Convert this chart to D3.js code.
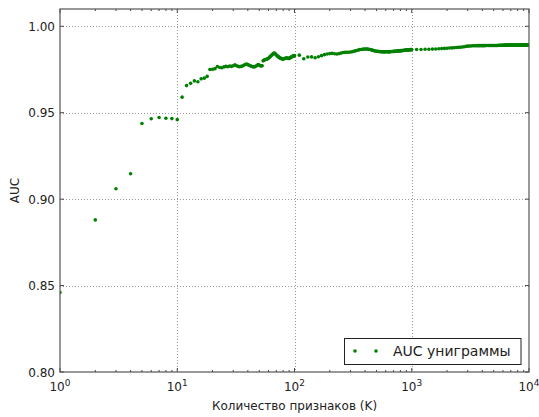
<!DOCTYPE html>
<html>
<head>
    <meta charset="utf-8">
    <script src="https://d3js.org/d3.v7.min.js"></script>
    <style>
        body { margin: 0; background: #fff; }
        text { font-family: "DejaVu Sans", sans-serif; fill: #222; }
    </style>
</head>
<body>
    <svg id="chart" width="539" height="417"></svg>

    <script>
        // number of features K (x values)
        const kLow = [1,2,3,4,5,6,7,8,9,10,11,12,13,14,15,16,17,18,19,20,
            21,22,23,24,25,26,27,28,29,30,31,32,33,34,35,36,37,38,39,40,
            41,42,43,44,45,46,47,48,49,50,51,52,53,54,55,56,57,58,59,60,
            61,62,63,64,65,66,67,68,69,70,71,72,73,74,75,76,77,78,79,80,
            81,82,83,84,85,86,87,88,89,90,91,92,93,94,95,96,97,98,99,100];
        const kMid = [110,120,130,140,150,160,170,180,190,200,210,220,230,240,250,260,270,280,290,300,
            310,320,330,340,350,360,370,380,390,400,410,420,430,440,450,460,470,480,490,500,
            510,520,530,540,550,560,570,580,590,600,610,620,630,640,650,660,670,680,690,700,
            710,720,730,740,750,760,770,780,790,800,810,820,830,840,850,860,870,880,890,900,
            910,920,930,940,950,960,970,980,990,1000];
        const kHigh = [1100,1200,1300,1400,1500,1600,1700,1800,1900,2000,2100,2200,2300,2400,2500,2600,2700,2800,2900,3000,
            3100,3200,3300,3400,3500,3600,3700,3800,3900,4000,4100,4200,4300,4400,4500,4600,4700,4800,4900,5000,
            5100,5200,5300,5400,5500,5600,5700,5800,5900,6000,6100,6200,6300,6400,6500,6600,6700,6800,6900,7000,
            7100,7200,7300,7400,7500,7600,7700,7800,7900,8000,8100,8200,8300,8400,8500,8600,8700,8800,8900,9000,
            9100,9200,9300,9400,9500,9600,9700,9800,9900,10000];

        // AUC for the unigram model
        const aucLow = [0.846,0.888,0.906,0.9147,0.9438,0.9465,0.9472,0.9468,0.9466,0.946,
            0.959,0.9657,0.967,0.9684,0.9679,0.9696,0.970,0.971,0.975,0.9751,
            0.9755,0.9767,0.9762,0.9760,0.9765,0.9768,0.9766,0.9770,0.9768,0.9772,
            0.9777,0.9772,0.9768,0.9766,0.9768,0.9770,0.9775,0.9779,0.9781,0.9778,
            0.9775,0.9771,0.9769,0.9766,0.9765,0.9766,0.9770,0.9775,0.9778,0.9776,
            0.9772,0.9770,0.9772,0.9800,0.9804,0.9806,0.9808,0.9810,0.9812,0.9815,
            0.9820,0.9825,0.9829,0.9833,0.9838,0.9842,0.9845,0.9844,0.9838,0.9834,
            0.9830,0.9826,0.9823,0.9820,0.9817,0.9815,0.9813,0.9812,0.9811,0.9811,
            0.9812,0.9813,0.9814,0.9815,0.9816,0.9816,0.9815,0.9815,0.9814,0.9814,
            0.9816,0.9818,0.9820,0.9822,0.9824,0.9826,0.9827,0.9828,0.9829,0.9830];
        const aucMid = [0.9833,0.9812,0.9822,0.9823,0.9818,0.9824,0.9830,0.9836,0.9840,0.9842,
            0.9843,0.9841,0.9840,0.9842,0.9845,0.9848,0.9849,0.9850,0.9850,0.9851,
            0.9853,0.9856,0.9858,0.9860,0.9863,0.9865,0.9866,0.9867,0.9868,0.9869,
            0.9869,0.9868,0.9867,0.9866,0.9864,0.9862,0.9860,0.9858,0.9857,0.9856,
            0.9855,0.9854,0.9854,0.9853,0.9853,0.9853,0.9852,0.9852,0.9852,0.9853,
            0.9853,0.9853,0.9852,0.9852,0.9853,0.9853,0.9854,0.9854,0.9854,0.9855,
            0.9855,0.9855,0.9856,0.9856,0.9857,0.9857,0.9857,0.9858,0.9858,0.9858,
            0.9859,0.9859,0.9860,0.9860,0.9860,0.9861,0.9861,0.9861,0.9862,0.9862,
            0.9862,0.9863,0.9863,0.9863,0.9864,0.9864,0.9864,0.9865,0.9865,0.9865];
        const aucHigh = [0.9866,0.9866,0.9867,0.9867,0.9868,0.9869,0.9870,0.9871,0.9872,0.9873,
            0.9874,0.9875,0.9876,0.9877,0.9878,0.9879,0.9880,0.9882,0.9884,0.9885,
            0.9886,0.9886,0.9887,0.9887,0.9887,0.9888,0.9888,0.9888,0.9888,0.9888,
            0.9888,0.9888,0.9889,0.9889,0.9889,0.9889,0.9889,0.9889,0.9889,0.9889,
            0.9889,0.9889,0.9889,0.9889,0.9890,0.9890,0.9890,0.9890,0.9890,0.9890,
            0.9891,0.9891,0.9891,0.9891,0.9891,0.9891,0.9892,0.9892,0.9892,0.9892,
            0.9892,0.9892,0.9892,0.9892,0.9892,0.9892,0.9892,0.9892,0.9892,0.9892,
            0.9892,0.9892,0.9892,0.9892,0.9892,0.9892,0.9892,0.9892,0.9892,0.9892,
            0.9892,0.9892,0.9892,0.9892,0.9892,0.9892,0.9892,0.9892,0.9892,0.9892];

        const yTicks = [0.80, 0.85, 0.90, 0.95, 1.00];
        const xMajor = [1, 10, 100, 1000, 10000];
        const xMinorMult = [2, 3, 4, 5, 6, 7, 8, 9];
        const seriesName = "AUC униграммы";

        const kValues = kLow.concat(kMid, kHigh);
        const aucValues = aucLow.concat(aucMid, aucHigh);
        const points = kValues.map((k, i) => ({ k: k, auc: aucValues[i] }));

        const svg = d3.select("#chart");
        const margin = { left: 60, right: 10, top: 9, bottom: 45 };
        const width = 539, height = 417;
        const x0 = margin.left, x1 = width - margin.right;
        const y0 = margin.top, y1 = height - margin.bottom;

        const x = d3.scaleLog().domain([1, 10000]).range([x0, x1]);
        const y = d3.scaleLinear().domain([0.80, 1.01]).range([y1, y0]);

        // grid
        const grid = svg.append("g").attr("stroke", "#999").attr("stroke-width", 1)
            .attr("stroke-dasharray", "1,2");
        xMajor.slice(1, -1).forEach(v => {
            grid.append("line").attr("x1", Math.round(x(v)) + 0.5).attr("x2", Math.round(x(v)) + 0.5)
                .attr("y1", y0).attr("y2", y1);
        });
        yTicks.slice(1).forEach(v => {
            grid.append("line").attr("y1", Math.round(y(v)) + 0.5).attr("y2", Math.round(y(v)) + 0.5)
                .attr("x1", x0).attr("x2", x1);
        });

        // points
        svg.append("clipPath").attr("id", "clip").append("rect")
            .attr("x", x0).attr("y", y0).attr("width", x1 - x0).attr("height", y1 - y0);
        svg.append("g").attr("clip-path", "url(#clip)")
            .selectAll("circle")
            .data(points)
            .join("circle")
            .attr("cx", d => x(d.k))
            .attr("cy", d => y(d.auc))
            .attr("r", 1.8)
            .attr("fill", "green");

        // ticks (inside, on all four sides)
        const ticks = svg.append("g").attr("stroke", "#444").attr("stroke-width", 1);
        xMajor.forEach(v => {
            const px = x(v);
            ticks.append("line").attr("x1", px).attr("x2", px).attr("y1", y1).attr("y2", y1 - 4);
            ticks.append("line").attr("x1", px).attr("x2", px).attr("y1", y0).attr("y2", y0 + 4);
        });
        xMajor.slice(0, -1).forEach(v => {
            xMinorMult.forEach(m => {
                const px = x(v * m);
                ticks.append("line").attr("x1", px).attr("x2", px).attr("y1", y1).attr("y2", y1 - 2);
                ticks.append("line").attr("x1", px).attr("x2", px).attr("y1", y0).attr("y2", y0 + 2);
            });
        });
        yTicks.forEach(v => {
            const py = y(v);
            ticks.append("line").attr("x1", x0).attr("x2", x0 + 4).attr("y1", py).attr("y2", py);
            ticks.append("line").attr("x1", x1).attr("x2", x1 - 4).attr("y1", py).attr("y2", py);
        });

        // frame
        svg.append("rect").attr("x", x0).attr("y", y0).attr("width", x1 - x0).attr("height", y1 - y0)
            .attr("fill", "none").attr("stroke", "#555").attr("stroke-width", 1.2);

        // tick labels
        yTicks.forEach(v => {
            svg.append("text").attr("x", x0 - 5).attr("y", y(v) + 4.5)
                .attr("text-anchor", "end").attr("font-size", "12px")
                .text(d3.format(".2f")(v));
        });
        xMajor.forEach(v => {
            const t = svg.append("text").attr("x", x(v)).attr("y", y1 + 19)
                .attr("text-anchor", "middle").attr("font-size", "12px");
            t.append("tspan").text("10");
            t.append("tspan").attr("dy", -5).attr("font-size", "9px").text(Math.round(Math.log10(v)));
        });

        // axis labels
        svg.append("text").attr("x", (x0 + x1) / 2).attr("y", 410)
            .attr("text-anchor", "middle").attr("font-size", "12px")
            .text("Количество признаков (K)");
        svg.append("text").attr("transform", `translate(19,${(y0 + y1) / 2}) rotate(-90)`)
            .attr("text-anchor", "middle").attr("font-size", "12px")
            .text("AUC");

        // legend
        const lg = svg.append("g");
        lg.append("rect").attr("x", 344.5).attr("y", 338.5).attr("width", 176.5).attr("height", 26)
            .attr("fill", "#fff").attr("stroke", "#222").attr("stroke-width", 1);
        [355, 376].forEach(px => {
            lg.append("circle").attr("cx", px).attr("cy", 351).attr("r", 1.8).attr("fill", "green");
        });
        lg.append("text").attr("x", 393).attr("y", 356).attr("font-size", "14px").text(seriesName);
    </script>
</body>
</html>
